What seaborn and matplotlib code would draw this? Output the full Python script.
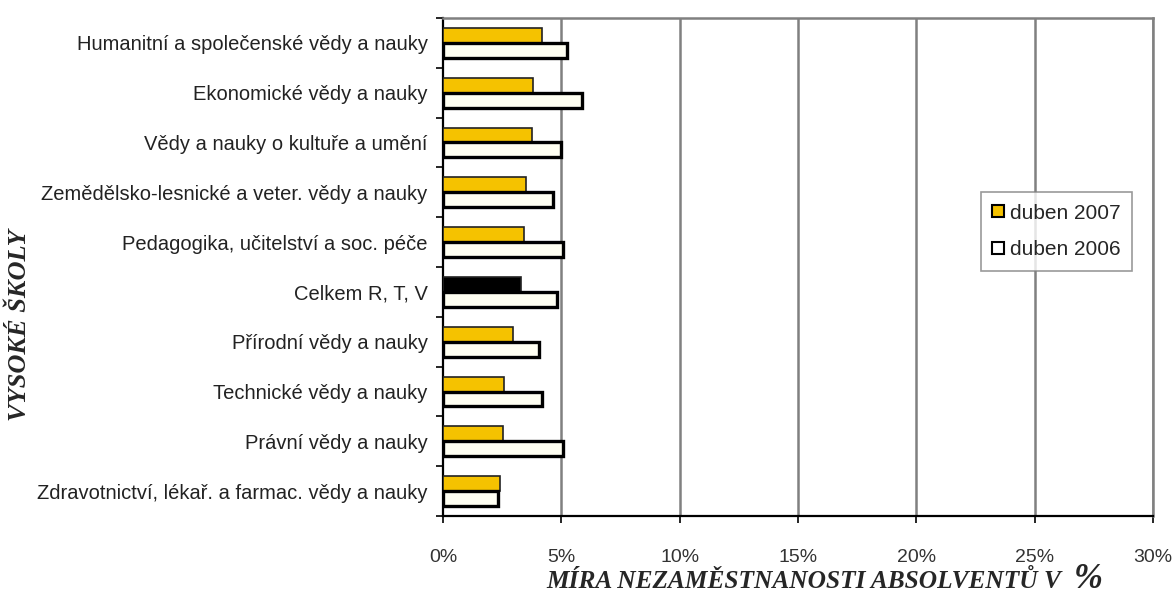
import numpy as np
import pandas as pd
import matplotlib
matplotlib.use("Agg")
import matplotlib.pyplot as plt
import seaborn as sns
from matplotlib.patches import Patch

# data (percent)
categories = [
    "Humanitní a společenské vědy a nauky",
    "Ekonomické vědy a nauky",
    "Vědy a nauky o kultuře a umění",
    "Zemědělsko-lesnické a veter. vědy a nauky",
    "Pedagogika, učitelství a soc. péče",
    "Celkem R, T, V",
    "Přírodní vědy a nauky",
    "Technické vědy a nauky",
    "Právní vědy a nauky",
    "Zdravotnictví, lékař. a farmac. vědy a nauky",
]
duben_2007 = [4.17, 3.81, 3.75, 3.50, 3.43, 3.28, 2.97, 2.58, 2.52, 2.41]
duben_2006 = [5.22, 5.86, 4.97, 4.66, 5.08, 4.83, 4.07, 4.17, 5.08, 2.34]
series = ["duben 2007", "duben 2006"]
x_ticks = [0, 5, 10, 15, 20, 25, 30]

df = pd.DataFrame({
    "Obor": categories * 2,
    "Rok": [series[0]] * len(categories) + [series[1]] * len(categories),
    "Hodnota": duben_2007 + duben_2006,
})

sns.set_style("white")
plt.rcParams["font.family"] = ["Liberation Sans", "DejaVu Sans"]

fig = plt.figure(figsize=(11.75, 5.98), dpi=100)
ax = fig.add_axes([0.377, 0.137, 0.9813 - 0.377, 0.97 - 0.137])

yellow = "#F5C200"
cream = "#FFFFF2"
ax = sns.barplot(data=df, x="Hodnota", y="Obor", hue="Rok", hue_order=series,
                 order=categories, palette=[yellow, cream], saturation=1,
                 width=0.6, orient="h", legend=False, ax=ax, zorder=3)

# edges: thin dark for 2007, thick black for 2006
for p in ax.containers[0]:
    p.set_edgecolor("#222222")
    p.set_linewidth(1.2)
for p in ax.containers[1]:
    p.set_edgecolor("black")
    p.set_linewidth(2.4)
# the total row is drawn black in 2007
ax.containers[0][categories.index("Celkem R, T, V")].set_facecolor("black")

ax.set_xlim(0, 30)
ax.set_ylim(len(categories) - 0.5, -0.5)
ax.set_xticks(x_ticks)
ax.set_xticklabels([f"{t}%" for t in x_ticks], fontsize=14, color="#333333")
for t in x_ticks[1:]:
    ax.axvline(t, color="#808080", linewidth=1.8, zorder=1)

ax.tick_params(axis="y", which="major", length=0, pad=11, labelsize=14.5,
               labelcolor="#222222")
ax.set_yticks(np.arange(-0.5, len(categories), 1), minor=True)
ax.tick_params(axis="y", which="minor", length=5, width=1.2, color="black",
               direction="out", left=True)
ax.tick_params(axis="x", length=5, width=1.2, color="black", direction="out",
               bottom=True, pad=19)

for s in ["left", "bottom"]:
    ax.spines[s].set_color("black")
    ax.spines[s].set_linewidth(1.6)
for s in ["top", "right"]:
    ax.spines[s].set_color("#808080")
    ax.spines[s].set_linewidth(1.8)

ax.set_xlabel("")
ax.set_ylabel("")
fig.text(0.017, 0.4565, "VYSOKÉ ŠKOLY", rotation=90, ha="center", va="center",
         fontsize=19, fontweight="bold", fontstyle="italic",
         family="Liberation Serif")
fig.text(0.4647, 0.017, "MÍRA NEZAMĚSTNANOSTI ABSOLVENTŮ V", ha="left",
         va="baseline", fontsize=18.3, fontweight="bold", fontstyle="italic",
         family="Liberation Serif")
fig.text(0.914, 0.017, "%", ha="left", va="baseline", fontsize=25,
         fontweight="bold", fontstyle="italic", family="Liberation Serif")

handles = [Patch(facecolor=yellow, edgecolor="black", linewidth=1.5),
           Patch(facecolor="white", edgecolor="black", linewidth=1.5)]
leg = fig.legend(handles, series, loc="center", bbox_to_anchor=(0.8991, 0.613),
                 fontsize=15, frameon=True, fancybox=False, handlelength=0.55,
                 handleheight=0.55, handletextpad=0.3, labelspacing=0.85,
                 borderpad=0.55)
leg.get_frame().set_edgecolor("#808080")
leg.get_frame().set_linewidth(1.2)

fig.savefig("out.png", dpi=100, facecolor="white")
